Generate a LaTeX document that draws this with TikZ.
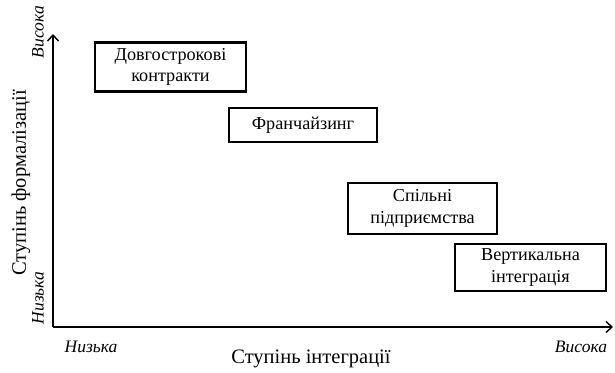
\documentclass[tikz,border=0pt]{standalone}
\usepackage{fontspec}
\setmainfont{Liberation Serif}
\usetikzlibrary{arrows.meta}
\begin{document}
\begin{tikzpicture}[x=1pt,y=-1pt,
  box/.style={draw,line width=2.8pt,align=center,font=\fontsize{18.2}{21.5}\selectfont,inner sep=0pt},
  axis/.style={line width=1.4pt,-{Straight Barb[length=6pt,width=11pt,line width=1.4pt]}},
  lab/.style={font=\itshape\fontsize{17.5}{19}\selectfont,inner sep=0pt},
  ttl/.style={font=\fontsize{20.5}{22}\selectfont,inner sep=0pt}]
\useasboundingbox (0,0) rectangle (615,372);
\coordinate (o) at (53,327);
\coordinate (ytop) at (53,34);
\coordinate (xend) at (613,327);
\draw[axis] (o) -- (ytop);
\draw[axis] (o) -- (xend);
\node[box,minimum width=151pt,minimum height=49pt] (b1) at (170.5,67) {Довгострокові\\контракти};
\node[box,minimum width=148pt,minimum height=34pt] (b2) at (303,125) {Франчайзинг};
\node[box,minimum width=149pt,minimum height=51pt] (b3) at (422.5,208.5) {Спільні\\підприємства};
\node[box,minimum width=151pt,minimum height=47pt] (b4) at (530.5,267.5) {Вертикальна\\інтеграція};
\node[lab,rotate=90] (yhi) at (38,32) {Висока};
\node[lab,rotate=90] (ylo) at (38,298) {Низька};
\node[ttl,rotate=90] (yt) at (21,183) {Ступінь формалізації};
\node[lab] (xlo) at (91,347) {Низька};
\node[lab] (xhi) at (581,347) {Висока};
\node[ttl] (xt) at (311,359) {Ступінь інтеграції};
\end{tikzpicture}
\end{document}
